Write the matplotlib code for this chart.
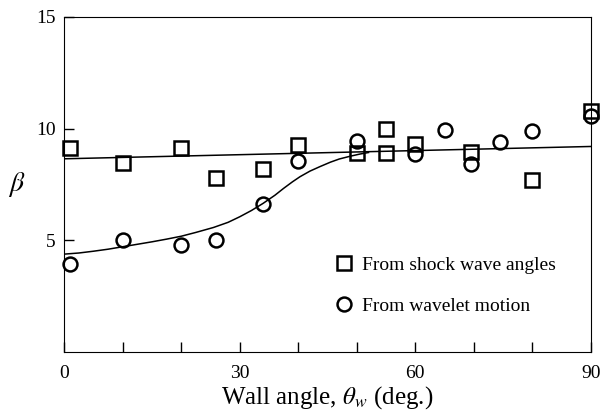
import matplotlib.pyplot as plt

plt.rcParams['font.family'] = ['Liberation Serif', 'DejaVu Serif']
plt.rcParams['mathtext.fontset'] = 'stix'

# beta estimated from shock wave angles
shock_angle = [1, 10, 20, 26, 34, 40, 50, 55, 55, 60, 69.5, 80, 90]
shock_beta = [9.15, 8.45, 9.12, 7.8, 8.2, 9.27, 8.93, 9.97, 8.93, 9.33, 8.97, 7.7, 10.8]

# beta estimated from wavelet motion
wave_angle = [1, 10, 20, 26, 34, 40, 50, 60, 65, 69.5, 74.5, 80, 90]
wave_beta = [3.97, 5.03, 4.78, 5.01, 6.64, 8.54, 9.45, 8.85, 9.94, 8.4, 9.42, 9.9, 10.57]

# fitted curves
fit_flat_x = [0, 90]
fit_flat_y = [8.65, 9.2]
fit_rise_x = [0, 2.5, 5, 7.5, 10, 12.5, 15, 17.5, 20, 22.5, 25.5, 28, 30, 32,
              34, 36, 37.5, 39, 40.3, 42, 43.7, 45.5, 47, 48.8, 50.5, 52]
fit_rise_y = [4.39, 4.44, 4.52, 4.61, 4.72, 4.83, 4.94, 5.06, 5.19, 5.36, 5.58,
              5.81, 6.06, 6.34, 6.66, 7.02, 7.33, 7.62, 7.85, 8.1, 8.3, 8.5,
              8.64, 8.76, 8.86, 8.93]

fig, ax = plt.subplots(figsize=(6.06, 4.17), dpi=100)
fig.subplots_adjust(left=0.106, right=0.975, top=0.96, bottom=0.155)

ax.plot(fit_flat_x, fit_flat_y, color='black', lw=1.1)
ax.plot(fit_rise_x, fit_rise_y, color='black', lw=1.1)

ax.plot(shock_angle, shock_beta, ls='none', marker='s', ms=10, mfc='none',
        mec='black', mew=1.8, label='From shock wave angles', clip_on=False)
ax.plot(wave_angle, wave_beta, ls='none', marker='o', ms=10, mfc='none',
        mec='black', mew=1.8, label='From wavelet motion', clip_on=False)

ax.set_xlim(0, 90)
ax.set_ylim(0, 15)
ax.set_xticks([0, 30, 60, 90])
ax.set_xticks(range(10, 90, 10), minor=True)
ax.set_yticks([5, 10, 15])
ax.tick_params(which='both', direction='in', length=7, width=1, labelsize=14)
ax.tick_params(axis='x', which='both', pad=9)
ax.tick_params(axis='y', pad=6)

ax.set_xlabel(r'Wall angle, $\theta_w$ (deg.)', fontsize=18, labelpad=2)
ax.set_ylabel(r'$\beta$', fontsize=20, rotation=0, labelpad=14, va='center')

ax.legend(loc='lower left', bbox_to_anchor=(0.47, 0.06), frameon=False,
          fontsize=14, handletextpad=0.2, labelspacing=1.2, handlelength=1.5)

fig.savefig('out.png')
